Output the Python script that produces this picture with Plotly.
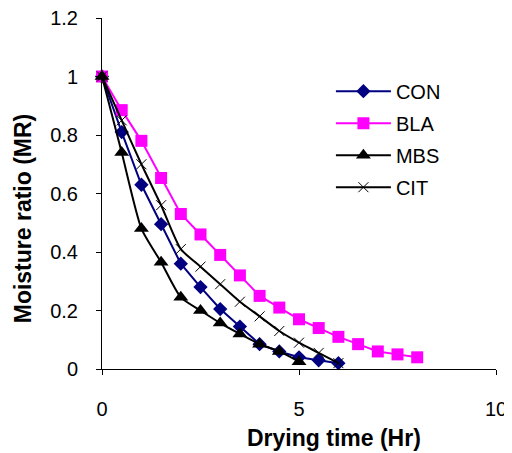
import plotly.graph_objects as go

# drying time (Hr), every half hour
time_con = [0, 0.5, 1, 1.5, 2, 2.5, 3, 3.5, 4, 4.5, 5, 5.5, 6]
time_bla = [0, 0.5, 1, 1.5, 2, 2.5, 3, 3.5, 4, 4.5, 5, 5.5, 6, 6.5, 7, 7.5, 8]
time_mbs = [0, 0.5, 1, 1.5, 2, 2.5, 3, 3.5, 4, 4.5, 5]
time_cit = [0, 0.5, 1, 1.5, 2, 2.5, 3, 3.5, 4, 4.5, 5, 5.5, 6]

# moisture ratio (MR)
mr_con = [1, 0.81, 0.63, 0.495, 0.36, 0.28, 0.205, 0.145, 0.085, 0.06, 0.04, 0.03, 0.02]
mr_bla = [1, 0.885, 0.78, 0.653, 0.53, 0.46, 0.39, 0.32, 0.25, 0.21, 0.17, 0.14,
          0.11, 0.085, 0.06, 0.05, 0.04]
mr_mbs = [1, 0.74, 0.48, 0.365, 0.245, 0.2, 0.157, 0.12, 0.085, 0.06, 0.025]
mr_cit = [1, 0.85, 0.70, 0.56, 0.41, 0.35, 0.29, 0.23, 0.18, 0.13, 0.09, 0.055, 0.02]

FONT = "Liberation Sans, Arial, sans-serif"

fig = go.Figure()

fig.add_trace(go.Scatter(x=time_con, y=mr_con, name="CON", mode="lines+markers",
                         line=dict(color="#000080", width=2),
                         marker=dict(symbol="diamond", size=11, color="#000080"),
                         legendgroup="con", cliponaxis=False))
fig.add_trace(go.Scatter(x=time_bla, y=mr_bla, name="BLA", mode="lines+markers",
                         line=dict(color="#FF00FF", width=2),
                         marker=dict(symbol="square", size=12, color="#FF00FF"),
                         legendgroup="bla", cliponaxis=False))
fig.add_trace(go.Scatter(x=time_mbs, y=mr_mbs, name="MBS", mode="lines+markers",
                         line=dict(color="black", width=2, shape="spline", smoothing=0.6),
                         marker=dict(symbol="triangle-up", size=13, color="black"),
                         legendgroup="mbs", cliponaxis=False))
fig.add_trace(go.Scatter(x=time_cit, y=mr_cit, name="CIT", mode="lines+markers",
                         line=dict(color="black", width=2, shape="spline", smoothing=0.6),
                         marker=dict(symbol="x-thin-open", size=10,
                                     line=dict(color="#444444", width=1)),
                         legendgroup="cit", cliponaxis=False))

fig.update_xaxes(range=[0, 10], dtick=5, showline=True, linecolor="black", linewidth=1,
                 ticks="outside", ticklen=5, tickcolor="black", showgrid=False,
                 zeroline=False, ticklabelstandoff=17, automargin=False,
                 ticklabeloverflow="allow",
                 tickfont=dict(family=FONT, size=20, color="black"))
fig.update_yaxes(range=[0, 1.2], dtick=0.2, showline=True, linecolor="black", linewidth=1,
                 ticks="outside", ticklen=5, tickcolor="black", showgrid=False,
                 zeroline=False, ticklabelstandoff=14, automargin=False,
                 ticklabeloverflow="allow",
                 tickfont=dict(family=FONT, size=20, color="black"))

fig.add_annotation(text="<b>Drying time (Hr)</b>", xref="paper", yref="paper",
                   x=0.589, y=-0.197, xanchor="center", yanchor="middle",
                   showarrow=False, font=dict(family=FONT, size=23, color="black"))
fig.add_annotation(text="<b>Moisture ratio (MR)</b>", xref="paper", yref="paper",
                   x=-0.2, y=0.43, xanchor="center", yanchor="middle",
                   showarrow=False, textangle=-90,
                   font=dict(family=FONT, size=23, color="black"))

# page body has an 8px margin, so the figure is nudged up/left by that much
fig.update_layout(
    width=512, height=453,
    margin=dict(l=94, r=24, t=10, b=92),
    paper_bgcolor="white", plot_bgcolor="white",
    legend=dict(x=0.581, y=0.847, xanchor="left", yanchor="top",
                font=dict(family=FONT, size=20, color="black"),
                tracegroupgap=3, bgcolor="rgba(0,0,0,0)", itemwidth=55),
)

fig.write_html("out.html")
